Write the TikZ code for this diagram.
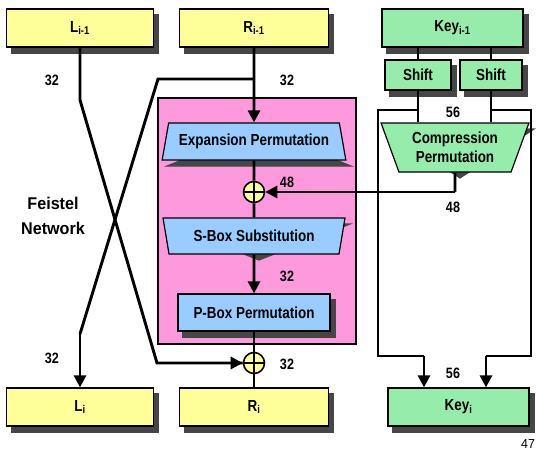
\documentclass[tikz,border=0pt]{standalone}
\usepackage{fontspec}
\setmainfont{Liberation Sans}[FakeStretch=0.84]
\newfontfamily\widefont{Liberation Sans}[FakeStretch=0.95]
\usetikzlibrary{arrows.meta,shapes.geometric,calc}
\definecolor{yfill}{RGB}{255,255,153}
\definecolor{gfill}{RGB}{150,236,170}
\definecolor{bfill}{RGB}{153,204,255}
\definecolor{pfill}{RGB}{255,153,221}
\definecolor{shadowgray}{RGB}{70,70,70}
\pgfdeclarelayer{pinklayer}
\pgfdeclarelayer{shadowlayer}
\pgfsetlayers{pinklayer,shadowlayer,main}
\begin{document}
\begin{tikzpicture}[x=1pt,y=-1pt,
  box/.style={draw=black,line width=1.2pt,inner sep=0pt,minimum height=38pt,
    font=\fontsize{16}{18}\selectfont\bfseries},
  ybox/.style={box,fill=yfill},
  gbox/.style={box,fill=gfill},
  trapbase/.style={trapezium,trapezium stretches=true,line width=1.2pt,inner sep=0pt},
  expshape/.style={trapbase,trapezium angle=69,minimum width=184pt,minimum height=37pt},
  sboxshape/.style={trapbase,trapezium angle=70,shape border rotate=180,minimum width=182pt,minimum height=36pt},
  compshape/.style={trapbase,trapezium angle=66,shape border rotate=180,minimum width=148pt,minimum height=49pt},
  trap/.style={draw=black,fill=bfill,font=\fontsize{16}{18}\selectfont\bfseries},
  shadowcopy/.style={fill=shadowgray,draw=shadowgray},
  xor/.style={circle,draw=black,line width=1.6pt,fill=yfill,minimum size=21pt,inner sep=0pt,
    path picture={\draw[line width=1.3pt] (path picture bounding box.north) -- (path picture bounding box.south)
      (path picture bounding box.west) -- (path picture bounding box.east);}},
  wire/.style={line width=2.9pt,draw=black},
  arr/.style={wire,-{Triangle[width=12pt,length=12pt]}},
  lab/.style={font=\fontsize{15}{17}\selectfont\bfseries,inner sep=0pt}]
\useasboundingbox (0,0) rectangle (536,451);
% pink round function
\begin{pgfonlayer}{pinklayer}
\node[draw=black,line width=1.6pt,fill=pfill,minimum width=198pt,minimum height=246pt,inner sep=0pt] (round) at (257,221) {};
\end{pgfonlayer}
% input / output boxes
\node[ybox,minimum width=147pt] (Lprev) at (80,28) {L\textsubscript{i-1}};
\node[ybox,minimum width=149pt] (Rprev) at (254,28) {R\textsubscript{i-1}};
\node[gbox,minimum width=141pt] (Kprev) at (452.5,28) {Key\textsubscript{i-1}};
\node[gbox,minimum width=66pt,minimum height=30pt] (Sh1) at (418,75) {Shift};
\node[gbox,minimum width=62pt,minimum height=30pt] (Sh2) at (491,75) {Shift};
\node[ybox,minimum width=147pt] (Li) at (80,407) {L\textsubscript{i}};
\node[ybox,minimum width=149pt] (Ri) at (254,407) {R\textsubscript{i}};
\node[gbox,minimum width=141pt] (Ki) at (458.5,407) {Key\textsubscript{i}};
% function boxes
\node[expshape,trap] (Exp) at (254,141.5) {Expansion Permutation};
\node[xor] (X1) at (254,192) {};
\node[sboxshape,trap] (Sbox) at (254,236) {S-Box Substitution};
\node[box,fill=bfill,minimum width=152pt,minimum height=37pt] (Pbox) at (254,312.5) {P-Box Permutation};
\node[xor] (X2) at (254,363) {};
\node[compshape,trap,fill=gfill,align=center,font=\fontsize{16}{19}\selectfont\bfseries] (Comp) at (455,147.5) {Compression\\Permutation};
% shadows
\begin{pgfonlayer}{shadowlayer}
\fill[shadowgray] ($(Lprev.north west)+(5,6)$) rectangle ($(Lprev.south east)+(5,6)$);
\fill[shadowgray] ($(Rprev.north west)+(5,6)$) rectangle ($(Rprev.south east)+(5,6)$);
\fill[shadowgray] ($(Kprev.north west)+(5,6)$) rectangle ($(Kprev.south east)+(5,6)$);
\fill[shadowgray] ($(Sh1.north west)+(5,6)$) rectangle ($(Sh1.south east)+(5,6)$);
\fill[shadowgray] ($(Sh2.north west)+(5,6)$) rectangle ($(Sh2.south east)+(5,6)$);
\fill[shadowgray] ($(Li.north west)+(5,6)$) rectangle ($(Li.south east)+(5,6)$);
\fill[shadowgray] ($(Ri.north west)+(5,6)$) rectangle ($(Ri.south east)+(5,6)$);
\fill[shadowgray] ($(Ki.north west)+(5,6)$) rectangle ($(Ki.south east)+(5,6)$);
\fill[shadowgray] ($(Pbox.north west)+(5,6)$) rectangle ($(Pbox.south east)+(5,6)$);
\node[expshape,shadowcopy] (ExpS) at ($(Exp.center)+(5,6)$) {\strut};
\node[sboxshape,shadowcopy] (SboxS) at ($(Sbox.center)+(5,6)$) {\strut};
\node[compshape,shadowcopy] (CompS) at ($(Comp.center)+(5,6)$) {\strut};
\end{pgfonlayer}
% coordinates for bends
\coordinate (lb1) at (80,100);
\coordinate (lb2) at (157,363);
\coordinate (rb) at (254,79);
\coordinate (rb2) at (158,79);
\coordinate (rb3) at (80,334);
\coordinate (ks1) at (418,110);
\coordinate (ks2) at (491,110);
\coordinate (kl) at (378,110);
\coordinate (kl2) at (378,356);
\coordinate (kl3) at (424,356);
\coordinate (kr) at (531,110);
\coordinate (kr2) at (531,356);
\coordinate (kr3) at (486,356);
\coordinate (cb) at (455,192);
% connectors
\draw[wire] (Lprev.south) -- (lb1) -- (lb2) -- (lb2 -| X2.west);
\draw[arr] (lb2) -- (X2.west);
\draw[arr] (Rprev.south) -- (Exp.north);
\draw[wire] (rb) -- (rb2) -- (rb3);
\draw[arr] (rb3) -- (Li.north);
\draw[wire] (Exp.south) -- (X1.north);
\draw[wire] (X1.south) -- (Sbox.north);
\draw[arr] (Sbox.south) -- (Pbox.north);
\draw[wire] (Pbox.south) -- (X2.north);
\draw[wire] (X2.south) -- (Ri.north);
\draw[wire] (Sh1.north |- Kprev.south) -- (Sh1.north);
\draw[wire] (Sh2.north |- Kprev.south) -- (Sh2.north);
\draw[wire] (Sh1.south) -- (Sh1.south |- Comp.north);
\draw[wire] (Sh2.south) -- (Sh2.south |- Comp.north);
\draw[wire] (ks1) -- (kl) -- (kl2) -- (kl3);
\draw[arr] (kl3) -- (kl3 |- Ki.north);
\draw[wire] (ks2) -- (kr) -- (kr2) -- (kr3);
\draw[arr] (kr3) -- (kr3 |- Ki.north);
\draw[wire] (Comp.south) -- (cb);
\draw[arr] (cb) -- (X1.east);
% labels
\node[lab] (n1) at (52,80) {32};
\node[lab] (n2) at (287,80) {32};
\node[lab] (n3) at (52,358) {32};
\node[lab] (n4) at (287,364) {32};
\node[lab] (n5) at (287,276) {32};
\node[lab] (n6) at (287,182) {48};
\node[lab] (n7) at (453,207) {48};
\node[lab] (n8) at (453,112) {56};
\node[lab] (n9) at (453,373) {56};
\node[align=center,font=\widefont\fontsize{17}{25}\selectfont\bfseries,inner sep=0pt] (fn) at (53,215.5) {Feistel\\Network};
\node[font=\widefont\fontsize{13}{15}\selectfont,inner sep=0pt] (pg) at (528,444) {47};
\end{tikzpicture}
\end{document}
